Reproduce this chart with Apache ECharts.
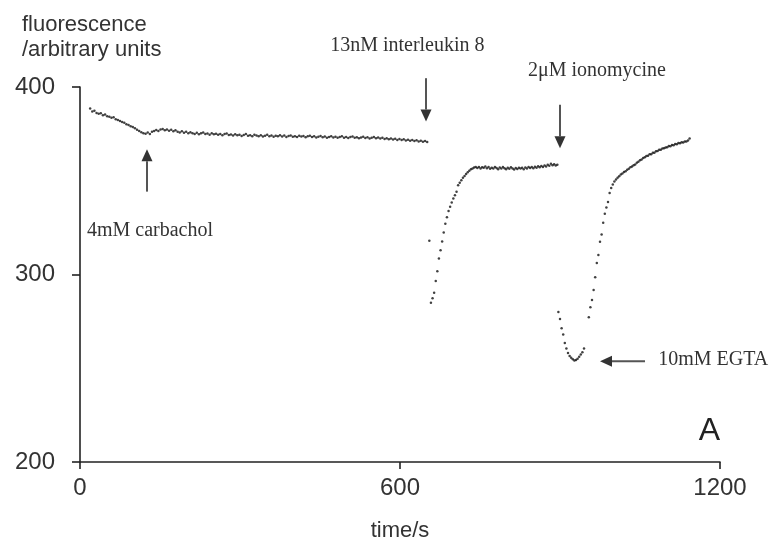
<!DOCTYPE html>
<html>
<head>
<meta charset="utf-8">
<title>Fluorescence trace</title>
<script src="https://cdn.jsdelivr.net/npm/echarts@6/dist/echarts.min.js"></script>
<style>
  html, body { margin: 0; padding: 0; background: #fff; }
  #chart { width: 773px; height: 547px; }
</style>
</head>
<body>
<div id="chart"></div>
<script>
// Recording 1: baseline, carbachol added near 125 s (sampled every 4 s from 19 s)
const baseStart = 19, baseStep = 4;
const baseValues = [
  388.6, 386.9, 387.4, 386.1, 385.7, 386.0, 384.9, 385.3, 384.4, 384.1,
  383.6, 383.9, 382.8, 382.4, 381.9, 381.3, 381.0, 380.2, 379.8, 379.1,
  378.7, 378.0, 377.2, 376.5, 375.9, 375.4, 375.1, 375.7, 374.9, 376.1,
  376.6, 377.1, 376.5, 377.4, 377.6, 376.9, 377.3, 376.7, 377.2, 376.4,
  376.9, 376.2, 375.8, 376.4, 375.6, 376.1, 375.3, 375.9, 375.4, 375.0,
  375.6, 374.8, 375.3, 375.7, 374.9, 375.2, 374.6, 375.4, 374.8, 375.1,
  374.5, 375.0, 374.3, 374.9, 375.2, 374.4, 374.7, 374.1, 374.8, 374.3,
  374.6, 373.9, 374.4, 374.9, 374.0, 374.3, 373.7, 374.5, 374.1, 373.8,
  374.3, 373.6, 374.0, 374.6, 373.8, 374.2, 373.5, 374.0, 373.7, 374.3,
  373.6, 374.1, 373.4, 373.9, 374.2, 373.5, 373.8, 373.3, 374.0, 373.6,
  373.9, 373.2, 373.7, 374.0, 373.4, 373.8, 373.1, 373.5, 373.9, 373.2,
  373.6, 373.0, 373.4, 373.8, 373.1, 373.5, 372.9, 373.3, 373.7, 373.0,
  373.4, 372.8, 373.3, 373.6, 372.9, 373.2, 372.7, 373.1, 373.5, 372.8,
  373.2, 372.6, 373.0, 373.4, 372.7, 373.1, 372.5, 372.9, 372.3, 372.7,
  372.2, 372.6, 372.0, 372.4, 371.8, 372.3, 371.7, 372.1, 371.5, 371.9,
  371.4, 371.8, 371.2, 371.6, 370.9, 371.4, 370.8, 371.2, 370.7
];

// Recording 2: after 13 nM interleukin 8 (sampled every 3 s from 655 s)
const il8Start = 655, il8Step = 3;
const il8Values = [
  318.0, 285.0, 287.4, 290.3, 296.5, 301.8, 308.6, 313.0, 317.6, 322.4,
  327.1, 330.6, 333.9, 336.2, 338.4, 340.6, 342.3, 344.1, 347.6, 349.0,
  350.3, 351.6, 352.5, 353.6, 354.5, 355.3, 356.1, 356.6, 357.1, 357.3,
  356.8, 357.4, 356.5, 357.2, 356.9, 357.6, 356.7, 357.3, 356.4, 357.0,
  356.6, 357.4, 356.8, 356.2, 357.1, 356.5, 357.3, 356.7, 356.1, 356.9,
  356.4, 357.2, 356.6, 356.0, 356.8, 356.3, 357.0, 356.5, 356.9, 356.2,
  357.1, 356.6, 357.4, 356.8, 357.3, 356.7, 357.5, 357.0, 357.8, 357.2,
  357.9, 357.4, 358.2, 357.6, 358.6, 358.0, 359.1, 358.3, 358.8, 358.1,
  358.5
];

// Recording 3: after 2 µM ionomycine, 10 mM EGTA near 950 s (sampled every 3 s from 897 s)
const ionoStart = 897, ionoStep = 3;
const ionoValues = [
  280.0, 276.3, 271.4, 268.0, 263.5, 260.6, 258.1, 256.6, 255.6, 254.8,
  254.1, 254.4, 255.1, 256.2, 257.4, 258.6, 260.5, null, null, 277.2,
  282.5, 286.4, 291.8, 298.6, 306.2, 310.4, 317.5, 321.3, 327.6, 332.4,
  335.8, 338.7, 343.5, 346.1, 348.0, 349.6, 350.7, 351.6, 352.4, 353.3,
  353.9, 354.7, 355.1, 355.9, 356.4, 357.2, 357.6, 358.3, 358.7, 359.6,
  360.1, 361.0, 361.4, 362.1, 362.5, 363.2, 363.4, 364.1, 364.2, 364.9,
  365.0, 365.7, 365.9, 366.5, 366.6, 367.2, 367.3, 367.8, 367.9, 368.5,
  368.4, 369.1, 369.0, 369.6, 369.5, 370.1, 370.0, 370.6, 370.4, 371.0,
  370.9, 371.5, 372.6
];

// Axis ticks
const xTicks = [0, 600, 1200];
const yTicks = [200, 300, 400];

// Additions marked with arrows
const arrowsVertical = [
  { t: 125.6, from: 344.2, to: 366.8 },   // carbachol
  { t: 648.8, from: 404.7, to: 381.6 },   // interleukin 8
  { t: 900.0, from: 390.5, to: 367.4 }    // ionomycine
];
const arrowsHorizontal = [
  { v: 253.7, from: 1059.4, to: 975.0 }   // EGTA
];
const notes = [
  { text: '4mM carbachol', t: 13, v: 323.2 },
  { text: '13nM interleukin 8', t: 469, v: 422.1 },
  { text: '2\u03bcM ionomycine', t: 840, v: 408.9 },
  { text: '10mM EGTA', t: 1084, v: 254.7 }
];

function toPairs(start, step, values) {
  return values.map((v, i) => [start + i * step, v]);
}

const sans = '"Liberation Sans", Arial, sans-serif';
const serif = '"Liberation Serif", "Times New Roman", serif';
const axisColor = '#222';
const textColor = '#333';
const dotStyle = { color: '#111' };

const chart = echarts.init(document.getElementById('chart'));

chart.setOption({
  animation: false,
  backgroundColor: '#fff',
  title: {
    text: 'fluorescence\n/arbitrary units',
    left: 17, top: 7,
    textStyle: { fontFamily: sans, fontSize: 22, fontWeight: 'normal', color: textColor, lineHeight: 25 }
  },
  grid: { left: 80, right: 53, top: 87, bottom: 80 },
  xAxis: {
    type: 'value', min: xTicks[0], max: xTicks[xTicks.length - 1], interval: xTicks[1] - xTicks[0],
    name: 'time/s', nameLocation: 'middle', nameGap: 58,
    nameTextStyle: { fontFamily: sans, fontSize: 22, color: textColor },
    axisLine: { lineStyle: { color: axisColor, width: 1.6 } },
    axisTick: { length: 7, lineStyle: { color: axisColor, width: 1.6 } },
    axisLabel: { fontFamily: sans, fontSize: 24, color: textColor, margin: 14, formatter: v => String(v) },
    splitLine: { show: false }
  },
  yAxis: {
    type: 'value', min: yTicks[0], max: yTicks[yTicks.length - 1], interval: yTicks[1] - yTicks[0],
    axisLine: { show: true, lineStyle: { color: axisColor, width: 1.6 } },
    axisTick: { show: true, length: 8, lineStyle: { color: axisColor, width: 1.6 } },
    axisLabel: { fontFamily: sans, fontSize: 24, color: textColor, margin: 25, formatter: v => String(v) },
    splitLine: { show: false }
  },
  series: [
    { type: 'scatter', symbolSize: 2.5, itemStyle: dotStyle, data: toPairs(baseStart, baseStep, baseValues) },
    { type: 'scatter', symbolSize: 2.5, itemStyle: dotStyle, data: toPairs(il8Start, il8Step, il8Values) },
    { type: 'scatter', symbolSize: 2.5, itemStyle: dotStyle, data: toPairs(ionoStart, ionoStep, ionoValues).filter(p => p[1] !== null) }
  ]
});

// Arrows and labels placed in data space
const px = (t, v) => chart.convertToPixel({ gridIndex: 0 }, [t, v]);
const graphics = [];
const headLen = 12, headHalf = 5.5;
const shaftColor = '#555', headColor = '#333';

function arrow(p0, p1) {
  const dx = p1[0] - p0[0], dy = p1[1] - p0[1];
  const len = Math.hypot(dx, dy);
  const ux = dx / len, uy = dy / len;
  const bx = p1[0] - ux * headLen, by = p1[1] - uy * headLen;
  graphics.push({
    type: 'line', silent: true,
    shape: { x1: p0[0], y1: p0[1], x2: bx, y2: by },
    style: { stroke: shaftColor, lineWidth: 2 }
  });
  graphics.push({
    type: 'polygon', silent: true,
    shape: { points: [[p1[0], p1[1]], [bx - uy * headHalf, by + ux * headHalf], [bx + uy * headHalf, by - ux * headHalf]] },
    style: { fill: headColor }
  });
}

arrowsVertical.forEach(a => arrow(px(a.t, a.from), px(a.t, a.to)));
arrowsHorizontal.forEach(a => arrow(px(a.from, a.v), px(a.to, a.v)));

notes.forEach(n => {
  const p = px(n.t, n.v);
  graphics.push({
    type: 'text', silent: true,
    x: p[0], y: p[1],
    style: { text: n.text, font: '20px ' + serif, fill: textColor, verticalAlign: 'middle', align: 'left' }
  });
});

// Panel letter, lower right of the plot
const letterPos = px(1200, 210);
graphics.push({
  type: 'text', silent: true,
  x: letterPos[0], y: letterPos[1] + 4,
  style: { text: 'A', font: '32px ' + sans, fill: '#222', align: 'right', verticalAlign: 'bottom' }
});

chart.setOption({ graphic: graphics });
</script>
</body>
</html>
